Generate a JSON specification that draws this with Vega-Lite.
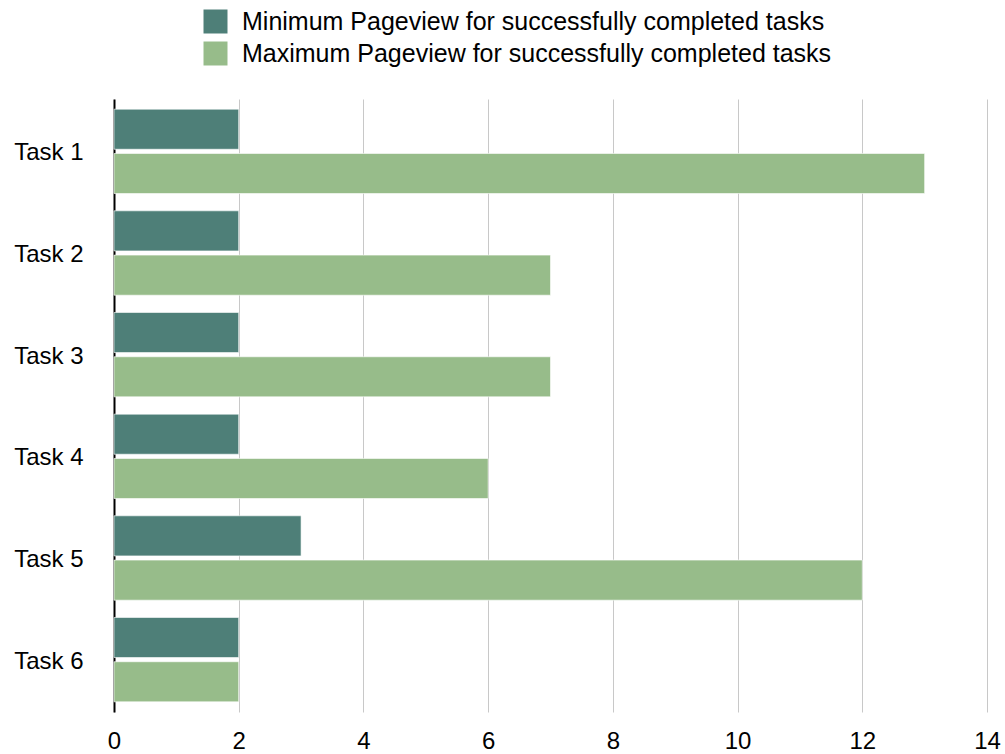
{
  "$schema": "https://vega.github.io/schema/vega-lite/v6.json",
  "width": 873,
  "height": 613,
  "autosize": {"type": "none"},
  "padding": {"left": 114, "top": 99, "right": 18, "bottom": 42},
  "background": "white",
  "config": {
    "view": {"stroke": null},
    "font": "Liberation Sans"
  },
  "data": {
    "values": [
      {"task": "Task 1", "series": "Minimum Pageview for successfully completed tasks", "value": 2},
      {"task": "Task 1", "series": "Maximum Pageview for successfully completed tasks", "value": 13},
      {"task": "Task 2", "series": "Minimum Pageview for successfully completed tasks", "value": 2},
      {"task": "Task 2", "series": "Maximum Pageview for successfully completed tasks", "value": 7},
      {"task": "Task 3", "series": "Minimum Pageview for successfully completed tasks", "value": 2},
      {"task": "Task 3", "series": "Maximum Pageview for successfully completed tasks", "value": 7},
      {"task": "Task 4", "series": "Minimum Pageview for successfully completed tasks", "value": 2},
      {"task": "Task 4", "series": "Maximum Pageview for successfully completed tasks", "value": 6},
      {"task": "Task 5", "series": "Minimum Pageview for successfully completed tasks", "value": 3},
      {"task": "Task 5", "series": "Maximum Pageview for successfully completed tasks", "value": 12},
      {"task": "Task 6", "series": "Minimum Pageview for successfully completed tasks", "value": 2},
      {"task": "Task 6", "series": "Maximum Pageview for successfully completed tasks", "value": 2}
    ]
  },
  "layer": [
    {
      "mark": {"type": "bar", "stroke": "white", "strokeWidth": 1, "strokeOpacity": 0.6},
      "encoding": {
        "y": {
          "field": "task",
          "type": "nominal",
          "sort": null,
          "scale": {"paddingInner": 0.17, "paddingOuter": 0.1},
          "axis": {
            "title": null,
            "domain": true,
            "domainColor": "black",
            "domainWidth": 2,
            "ticks": false,
            "tickSize": 0,
            "labelFontSize": 24,
            "labelColor": "black",
            "labelPadding": 31,
            "labelAlign": "right",
            "labelBaseline": "middle",
            "labelOffset": 2
          }
        },
        "yOffset": {
          "field": "series",
          "type": "nominal",
          "sort": ["Minimum Pageview for successfully completed tasks", "Maximum Pageview for successfully completed tasks"],
          "scale": {"paddingInner": 0.095}
        },
        "x": {
          "field": "value",
          "type": "quantitative",
          "scale": {"domain": [0, 14], "nice": false},
          "axis": {
            "title": null,
            "values": [0, 2, 4, 6, 8, 10, 12, 14],
            "domain": false,
            "ticks": false,
            "tickSize": 0,
            "grid": true,
            "gridColor": "#c8c8c8",
            "gridWidth": 1,
            "labelFontSize": 24,
            "labelColor": "black",
            "labelPadding": 17,
            "labelFlush": false
          }
        },
        "color": {
          "field": "series",
          "type": "nominal",
          "sort": ["Minimum Pageview for successfully completed tasks", "Maximum Pageview for successfully completed tasks"],
          "scale": {"range": ["#4E7F78", "#97BC8A"]},
          "legend": {
            "title": null,
            "orient": "none",
            "legendX": 89,
            "legendY": -90,
            "symbolType": "square",
            "symbolSize": 576,
            "symbolStrokeWidth": 0,
            "symbolOpacity": 1,
            "labelFontSize": 25,
            "labelColor": "black",
            "labelOffset": 14,
            "rowPadding": 6,
            "labelLimit": 800
          }
        }
      }
    }
  ]
}
